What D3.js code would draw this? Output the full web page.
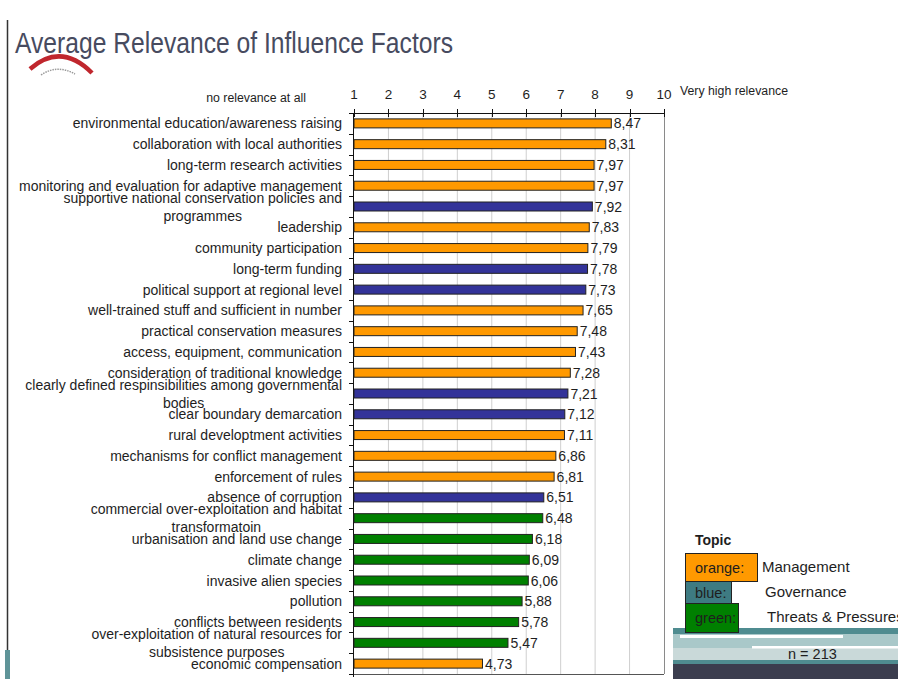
<!DOCTYPE html>
<html>
<head>
<meta charset="utf-8">
<script src="https://cdn.jsdelivr.net/npm/d3@7/dist/d3.min.js"></script>
<style>
  html, body { margin: 0; padding: 0; background: #fff; }
  svg { display: block; font-family: "Liberation Sans", Arial, sans-serif; }
</style>
</head>
<body>
<svg id="chart" width="898" height="679"></svg>
<script>
'use strict';

// factor names ("\n" marks where the slide wraps the label)
var categories = [
    'environmental education/awareness raising',
    'collaboration with local authorities',
    'long-term research activities',
    'monitoring and evaluation for adaptive management',
    'supportive national conservation policies and\nprogrammes',
    'leadership',
    'community participation',
    'long-term funding',
    'political support at regional level',
    'well-trained stuff and sufficient in number',
    'practical conservation measures',
    'access, equipment, communication',
    'consideration of traditional knowledge',
    'clearly defined respinsibilities among governmental\nbodies',
    'clear boundary demarcation',
    'rural developtment activities',
    'mechanisms for conflict management',
    'enforcement of rules',
    'absence of corruption',
    'commercial over-exploitation and habitat\ntransformatoin',
    'urbanisation and land use change',
    'climate change',
    'invasive alien species',
    'pollution',
    'conflicts between residents',
    'over-exploitation of natural resources for\nsubsistence purposes',
    'economic compensation'
];

var relevance = [8.47, 8.31, 7.97, 7.97, 7.92, 7.83, 7.79, 7.78, 7.73, 7.65, 7.48, 7.43, 7.28, 7.21,
    7.12, 7.11, 6.86, 6.81, 6.51, 6.48, 6.18, 6.09, 6.06, 5.88, 5.78, 5.47, 4.73];

// M = management, G = governance, T = threats & pressures
var topics = ['M', 'M', 'M', 'M', 'G', 'M', 'M', 'G', 'G', 'M', 'M', 'M', 'M', 'G',
    'G', 'M', 'M', 'M', 'G', 'T', 'T', 'T', 'T', 'T', 'T', 'T', 'M'];

var scaleTicks = [1, 2, 3, 4, 5, 6, 7, 8, 9, 10];

var legendKeys = ['M', 'G', 'T'];
var legendBoxText = ['orange:', 'blue:', 'green:'];
var legendNames = ['Management', 'Governance', 'Threats & Pressures'];
var sampleSize = 213;

var barColor = { M: '#ff9900', G: '#333399', T: '#008000' };
var keyColor = { M: '#ff9900', G: '#3e7b82', T: '#008000' };

var svg = d3.select('#chart'),
    plot = { left: 354, right: 664, top: 113, bottom: 674 },
    textColor = '#1e1e1e';

var rows = categories.map(function (c, i) {
    return { name: c, lines: c.split('\n'), value: relevance[i], topic: topics[i] };
});

var x = d3.scaleLinear().domain([1, 10]).range([plot.left, plot.right]);
var y = d3.scaleBand()
    .domain(d3.range(rows.length))
    .range([plot.top, plot.bottom])
    .paddingInner(0.567)
    .paddingOuter(0.2835);

/******************** slide decoration ********************/
svg.append('line')
    .attr('x1', 7.5).attr('x2', 7.5).attr('y1', 20).attr('y2', 679)
    .attr('stroke', '#333').attr('stroke-width', 1.5);
svg.append('rect').attr('x', 5).attr('y', 650).attr('width', 5).attr('height', 29).attr('fill', '#5f9498');

svg.append('text')
    .attr('x', 15).attr('y', 52.5)
    .attr('font-size', 30)
    .attr('textLength', 438).attr('lengthAdjust', 'spacingAndGlyphs')
    .attr('fill', '#474b5f')
    .text('Average Relevance of Influence Factors');

// logo arcs under the title
svg.append('path')
    .attr('d', 'M30,69 Q61,42 92,73')
    .attr('fill', 'none').attr('stroke', '#c0262d').attr('stroke-width', 4.5);
svg.append('path')
    .attr('d', 'M41,75 Q57,64 75,74')
    .attr('fill', 'none').attr('stroke', '#9a9a9a').attr('stroke-width', 1.5)
    .attr('stroke-dasharray', '1.5,1');

/******************** grid and axes ********************/
svg.append('g')
    .selectAll('line')
    .data(scaleTicks.slice(1, -1))
    .enter().append('line')
    .attr('x1', d => x(d)).attr('x2', d => x(d))
    .attr('y1', plot.top).attr('y2', plot.bottom)
    .attr('stroke', '#cfcfcf').attr('stroke-width', 1);

svg.append('line')
    .attr('x1', x(10) + 0.5).attr('x2', x(10) + 0.5)
    .attr('y1', plot.top).attr('y2', plot.bottom)
    .attr('stroke', '#8a8a8a');
svg.append('line')
    .attr('x1', plot.left).attr('x2', plot.right)
    .attr('y1', plot.bottom + 0.5).attr('y2', plot.bottom + 0.5)
    .attr('stroke', '#555');

// top scale
var topAxis = svg.append('g');
topAxis.append('line')
    .attr('x1', plot.left).attr('x2', plot.right)
    .attr('y1', plot.top + 0.5).attr('y2', plot.top + 0.5)
    .attr('stroke', '#111');
topAxis.selectAll('.tick')
    .data(scaleTicks)
    .enter().append('line')
    .attr('x1', d => Math.round(x(d)) + 0.5).attr('x2', d => Math.round(x(d)) + 0.5)
    .attr('y1', plot.top - 4).attr('y2', plot.top + 4)
    .attr('stroke', '#111');
topAxis.selectAll('text')
    .data(scaleTicks)
    .enter().append('text')
    .attr('x', d => x(d)).attr('y', 98.5)
    .attr('text-anchor', 'middle')
    .attr('font-size', 13.5)
    .attr('fill', textColor)
    .text(d => d);

svg.append('text')
    .attr('x', 306).attr('y', 101.5)
    .attr('text-anchor', 'end')
    .attr('font-size', 12.3)
    .attr('fill', textColor)
    .text('no relevance at all');
svg.append('text')
    .attr('x', 680).attr('y', 95)
    .attr('font-size', 12.3)
    .attr('fill', textColor)
    .text('Very high relevance');

// left category axis
svg.append('line')
    .attr('x1', plot.left - 0.5).attr('x2', plot.left - 0.5)
    .attr('y1', plot.top).attr('y2', plot.bottom + 3)
    .attr('stroke', '#111');
svg.append('g')
    .selectAll('line')
    .data(d3.range(rows.length + 1))
    .enter().append('line')
    .attr('x1', plot.left - 5).attr('x2', plot.left)
    .attr('y1', i => Math.round(plot.top + i * y.step()) + 0.5)
    .attr('y2', i => Math.round(plot.top + i * y.step()) + 0.5)
    .attr('stroke', '#111');

/******************** bars ********************/
var bars = svg.append('g').attr('class', 'bars');

bars.selectAll('rect')
    .data(rows)
    .enter().append('rect')
    .attr('x', x(1))
    .attr('y', (d, i) => y(i))
    .attr('width', d => x(d.value) - x(1))
    .attr('height', y.bandwidth())
    .attr('fill', d => barColor[d.topic])
    .attr('stroke', '#222')
    .attr('stroke-width', 1);

bars.selectAll('text')
    .data(rows)
    .enter().append('text')
    .attr('x', d => x(d.value) + 2.5)
    .attr('y', (d, i) => y(i) + y.bandwidth() / 2)
    .attr('dy', '0.36em')
    .attr('font-size', 14)
    .attr('fill', textColor)
    .text(d => d.value.toFixed(2).replace('.', ','));

// category labels: block right aligned, wrapped lines centred on each other
var labelRight = 342;
var labels = svg.append('g').attr('class', 'labels');
rows.forEach(function (d, i) {
    var cy = y(i) + y.bandwidth() / 2,
        n = d.lines.length,
        texts = [];
    d.lines.forEach(function (line, j) {
        var t = labels.append('text')
            .attr('y', cy + (j - (n - 1) / 2) * 18)
            .attr('dy', '0.36em')
            .attr('font-size', 14)
            .attr('fill', textColor)
            .text(line);
        texts.push(t);
    });
    var widths = texts.map(t => t.node().getComputedTextLength()),
        maxW = d3.max(widths),
        mid = labelRight - maxW / 2;
    texts.forEach(function (t) {
        t.attr('x', mid).attr('text-anchor', 'middle');
    });
});

/******************** bottom right banner ********************/
var banner = svg.append('g');
banner.append('rect').attr('x', 673).attr('y', 628).attr('width', 225).attr('height', 51).attr('fill', '#4f8c90');
banner.append('rect').attr('x', 673).attr('y', 634).attr('width', 225).attr('height', 14).attr('fill', '#a9c8c9');
banner.append('rect').attr('x', 673).attr('y', 648).attr('width', 225).attr('height', 12).attr('fill', '#c9d9d9');
banner.append('rect').attr('x', 680).attr('y', 635).attr('width', 163).attr('height', 3).attr('fill', '#ffffff');
banner.append('rect').attr('x', 752).attr('y', 646).attr('width', 146).attr('height', 2.5).attr('fill', '#ffffff');
banner.append('rect').attr('x', 673).attr('y', 664).attr('width', 225).attr('height', 15).attr('fill', '#3b3d4e');
banner.append('text')
    .attr('x', 788).attr('y', 659)
    .attr('font-size', 14.5)
    .attr('fill', textColor)
    .text('n = ' + sampleSize);

/******************** legend ********************/
var legend = svg.append('g').attr('class', 'legend');
legend.append('text')
    .attr('x', 695).attr('y', 545)
    .attr('font-size', 14).attr('font-weight', 'bold')
    .attr('fill', textColor)
    .text('Topic');

var keyBoxes = [
    { y: 553, w: 72, h: 28, labelX: 762 },
    { y: 581, w: 46, h: 23, labelX: 765 },
    { y: 603, w: 53, h: 29, labelX: 767 }
];

legendKeys.forEach(function (k, i) {
    var b = keyBoxes[i];
    legend.append('rect')
        .attr('x', 685.5).attr('y', b.y + 0.5)
        .attr('width', b.w).attr('height', b.h)
        .attr('fill', keyColor[k])
        .attr('stroke', '#222');
    legend.append('text')
        .attr('x', 695).attr('y', b.y + b.h / 2 + 0.5)
        .attr('dy', '0.36em')
        .attr('font-size', 14.5)
        .attr('fill', textColor)
        .text(legendBoxText[i]);
    legend.append('text')
        .attr('x', b.labelX).attr('y', b.y + b.h / 2 - 0.5)
        .attr('dy', '0.36em')
        .attr('font-size', 15)
        .attr('fill', textColor)
        .text(legendNames[i]);
});
</script>
</body>
</html>
